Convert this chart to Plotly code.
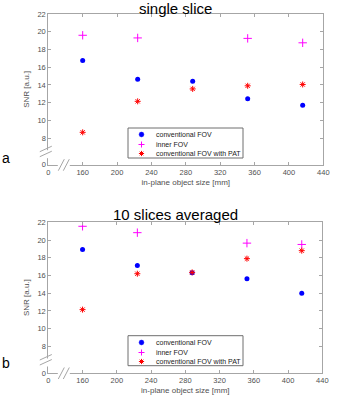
import plotly.graph_objects as go

# ---- data ----
object_size = [160, 224, 288, 352, 416]
inner_size = [160, 224, 352, 416]

single_conv = [16.75, 14.65, 14.4, 12.45, 11.7]
single_inner = [19.6, 19.3, 19.25, 18.75]
single_pat = [8.65, 12.15, 13.55, 13.9, 14.05]

avg_conv = [18.92, 17.12, 16.32, 15.62, 14.0]
avg_inner = [21.55, 20.83, 19.65, 19.5]
avg_pat = [12.15, 16.2, 16.35, 17.9, 18.8]

series_names = ["conventional FOV", "inner FOV", "conventional FOV with PAT"]
series_colors = ["#0000ff", "#ff00ff", "#ff0000"]

x_tickvals = [120, 160, 200, 240, 280, 320, 360, 400, 440]
x_ticktext = ["0", "160", "200", "240", "280", "320", "360", "400", "440"]
y_tickvals = [5, 8, 10, 12, 14, 16, 18, 20, 22]
y_ticktext = ["0", "8", "10", "12", "14", "16", "18", "20", "22"]

W, H = 363, 400
FONT = "Liberation Sans, Arial, sans-serif"
AXC = "#a6a6a6"
TXC = "#505050"

fig = go.Figure()

panels = [
    dict(title="single slice", conv=single_conv, inner=single_inner, pat=single_pat,
         L=48.3, R=323.3, T=14.0, B=164.7, xa="x", ya="y",
         legbox=(128, 128, 243, 158), label="a", label_y=158, title_y=8),
    dict(title="10 slices averaged", conv=avg_conv, inner=avg_inner, pat=avg_pat,
         L=48.3, R=322.3, T=222.3, B=373.0, xa="x2", ya="y2",
         legbox=(128, 335.7, 243, 365.7), label="b", label_y=363, title_y=214.5),
]

shapes = []
annotations = []

def px(x):
    return x / W

def py(y):
    return 1 - y / H

def seg(x0, y0, x1, y1, color, width=1):
    return dict(type="line", xref="paper", yref="paper", x0=px(x0), y0=py(y0),
                x1=px(x1), y1=py(y1), line=dict(color=color, width=width), layer="above")

for i, p in enumerate(panels):
    sfx = "" if i == 0 else "2"
    fig.add_trace(go.Scatter(x=object_size, y=p["conv"], mode="markers", name=series_names[0],
                             marker=dict(symbol="circle", size=5, color=series_colors[0]),
                             xaxis=p["xa"], yaxis=p["ya"], showlegend=False))
    fig.add_trace(go.Scatter(x=inner_size, y=p["inner"], mode="markers", name=series_names[1],
                             marker=dict(symbol="cross-thin-open", size=6, color=series_colors[1],
                                         line=dict(color=series_colors[1], width=1)),
                             xaxis=p["xa"], yaxis=p["ya"], showlegend=False))
    fig.add_trace(go.Scatter(x=object_size, y=p["pat"], mode="markers", name=series_names[2],
                             marker=dict(symbol="asterisk-open", size=5, color=series_colors[2],
                                         line=dict(color=series_colors[2], width=1)),
                             xaxis=p["xa"], yaxis=p["ya"], showlegend=False))

    axis_common = dict(showgrid=False, zeroline=False, showline=True, linecolor=AXC, linewidth=1,
                       mirror="ticks", ticks="inside", ticklen=3, tickcolor=AXC, automargin=False,
                       tickfont=dict(family=FONT, size=7.5, color=TXC))
    fig.update_layout(**{
        "xaxis" + sfx: dict(axis_common, domain=[px(p["L"]), px(p["R"])], range=[120, 440],
                            tickvals=x_tickvals, ticktext=x_ticktext, anchor="y" + sfx,
                            title=dict(text="in-plane object size [mm]", standoff=3,
                                       font=dict(family=FONT, size=8, color=TXC))),
        "yaxis" + sfx: dict(axis_common, domain=[py(p["B"]), py(p["T"])], range=[5, 22],
                            tickvals=y_tickvals, ticktext=y_ticktext, anchor="x" + sfx,
                            title=dict(text="SNR [a.u.]", standoff=6,
                                       font=dict(family=FONT, size=8, color=TXC))),
    })

    L, B = p["L"], p["B"]
    # cover y-axis gap
    shapes.append(dict(type="rect", xref="paper", yref="paper", x0=px(L - 3), x1=px(L + 3),
                       y0=py(B - 6.5), y1=py(B - 14.5), fillcolor="white", line=dict(width=0),
                       layer="above"))
    # y-axis break marks
    for dy in (0, 5):
        shapes.append(seg(L - 8.5, B - 8 - dy, L + 3.5, B - 13.5 - dy, AXC))
    # cover x-axis gap
    shapes.append(dict(type="rect", xref="paper", yref="paper", x0=px(L + 9.5), x1=px(L + 21.5),
                       y0=py(B + 3), y1=py(B - 3), fillcolor="white", line=dict(width=0),
                       layer="above"))
    # x-axis break marks
    for dx in (0, 5):
        shapes.append(seg(L + 10 + dx, B + 6, L + 16 + dx, B - 5.5, AXC))

    # legend box (drawn manually to match compact row spacing)
    lx0, ly0, lx1, ly1 = p["legbox"]
    shapes.append(dict(type="rect", xref="paper", yref="paper", x0=px(lx0), x1=px(lx1),
                       y0=py(ly1), y1=py(ly0), fillcolor="white",
                       line=dict(color="#6e6e6e", width=1), layer="above"))
    sx = lx0 + 13.5
    for k, name in enumerate(series_names):
        ry = round(ly0 + 6.3 + k * 9.5) + 0.5
        c = series_colors[k]
        if k == 0:
            shapes.append(dict(type="circle", xref="paper", yref="paper",
                               x0=px(sx - 2.4), x1=px(sx + 2.4), y0=py(ry + 2.4), y1=py(ry - 2.4),
                               fillcolor=c, line=dict(color=c, width=0.5), layer="above"))
        elif k == 1:
            shapes.append(seg(sx - 3, ry, sx + 3, ry, c))
            shapes.append(seg(sx, ry - 3, sx, ry + 3, c))
        else:
            shapes.append(seg(sx - 2.6, ry, sx + 2.6, ry, c, 1))
            shapes.append(seg(sx, ry - 2.6, sx, ry + 2.6, c, 1))
            shapes.append(seg(sx - 1.8, ry - 1.8, sx + 1.8, ry + 1.8, c, 1))
            shapes.append(seg(sx - 1.8, ry + 1.8, sx + 1.8, ry - 1.8, c, 1))
        annotations.append(dict(text=name, xref="paper", yref="paper", x=px(lx0 + 26), y=py(ry),
                                xanchor="left", yanchor="middle", showarrow=False,
                                font=dict(family=FONT, size=7, color="#222222")))

    annotations.append(dict(text=p["title"], xref="paper", yref="paper", x=px(175), y=py(p["title_y"]),
                            xanchor="center", yanchor="middle", showarrow=False,
                            font=dict(family=FONT, size=15, color="black")))
    annotations.append(dict(text=p["label"], xref="paper", yref="paper", x=px(6), y=py(p["label_y"]),
                            xanchor="center", yanchor="middle", showarrow=False,
                            font=dict(family=FONT, size=14, color="black")))

fig.update_layout(width=W, height=H, margin=dict(l=0, r=0, t=0, b=0),
                  paper_bgcolor="white", plot_bgcolor="white", shapes=shapes,
                  annotations=annotations, showlegend=False)

fig.write_html("out.html", config={"displayModeBar": False},
               post_script="document.body.style.margin='0px';")
